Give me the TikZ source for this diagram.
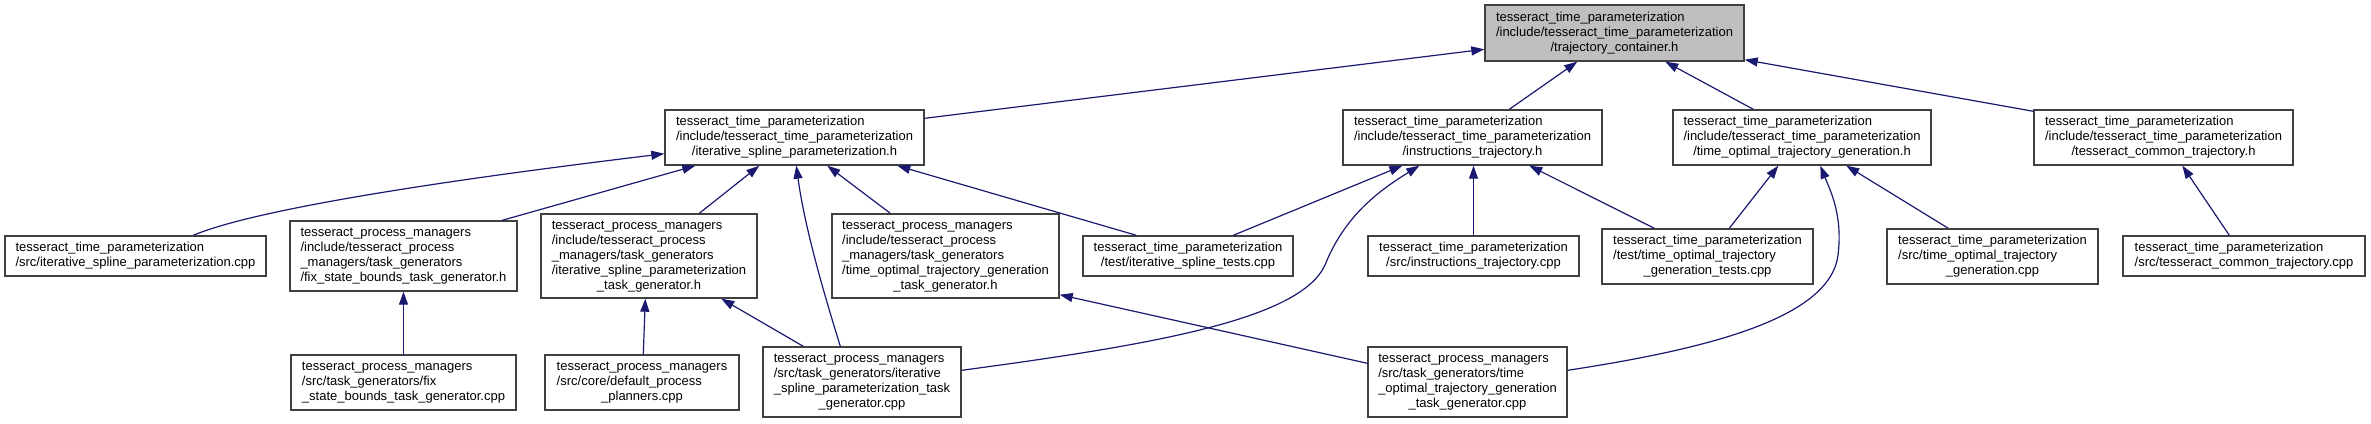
\documentclass[tikz,border=0pt]{standalone}
\usepackage{fontspec}
\setmainfont{Liberation Sans}
\usepackage{xcolor}
\usepackage{tikz}
\usetikzlibrary{arrows.meta}
\definecolor{edgeblue}{HTML}{191970}
\definecolor{focusgray}{HTML}{BFBFBF}
% file label: left lines, last line centred
\newcommand{\flabel}[2]{\begin{tabular}{@{}l@{}}#1\\\multicolumn{1}{@{}c@{}}{#2}\end{tabular}}

\begin{document}
\begin{tikzpicture}[x=1pt, y=-1pt, font=\fontsize{13}{15}\selectfont,
  box/.style={draw=black!75, line width=1.4pt, fill=white, inner sep=0pt},
  edge/.style={draw=edgeblue, line width=1.2pt, -{Triangle[length=13pt,width=9pt]}}]
\useasboundingbox (0,0) rectangle (2371,423);
% top: the header itself
\node[box, fill=focusgray, minimum width=259pt, minimum height=56pt] (trajh) at (1614.5,33)
  {\flabel{tesseract\_time\_parameterization\\/include/tesseract\_time\_parameterization}{/trajectory\_container.h}};
% headers that include it
\node[box, minimum width=259pt, minimum height=55pt] (isph) at (794.5,137.5)
  {\flabel{tesseract\_time\_parameterization\\/include/tesseract\_time\_parameterization}{/iterative\_spline\_parameterization.h}};
\node[box, minimum width=259pt, minimum height=55pt] (instrh) at (1472.5,137.5)
  {\flabel{tesseract\_time\_parameterization\\/include/tesseract\_time\_parameterization}{/instructions\_trajectory.h}};
\node[box, minimum width=258pt, minimum height=55pt] (toptgh) at (1802,137.5)
  {\flabel{tesseract\_time\_parameterization\\/include/tesseract\_time\_parameterization}{/time\_optimal\_trajectory\_generation.h}};
\node[box, minimum width=259pt, minimum height=55pt] (commonh) at (2163.5,137.5)
  {\flabel{tesseract\_time\_parameterization\\/include/tesseract\_time\_parameterization}{/tesseract\_common\_trajectory.h}};
% second row
\node[box, minimum width=261pt, minimum height=40pt] (ispcpp) at (135.5,256)
  {\flabel{tesseract\_time\_parameterization}{/src/iterative\_spline\_parameterization.cpp}};
\node[box, minimum width=227pt, minimum height=70pt] (fixh) at (403.5,256)
  {\flabel{tesseract\_process\_managers\\/include/tesseract\_process\\\_managers/task\_generators}{/fix\_state\_bounds\_task\_generator.h}};
\node[box, minimum width=216pt, minimum height=84pt] (isptgh) at (649,256)
  {\flabel{tesseract\_process\_managers\\/include/tesseract\_process\\\_managers/task\_generators\\/iterative\_spline\_parameterization}{\_task\_generator.h}};
\node[box, minimum width=227pt, minimum height=84pt] (totgtgh) at (945.5,256)
  {\flabel{tesseract\_process\_managers\\/include/tesseract\_process\\\_managers/task\_generators\\/time\_optimal\_trajectory\_generation}{\_task\_generator.h}};
\node[box, minimum width=210pt, minimum height=40pt] (isptest) at (1188,256)
  {\flabel{tesseract\_time\_parameterization}{/test/iterative\_spline\_tests.cpp}};
\node[box, minimum width=211pt, minimum height=40pt] (instrcpp) at (1473.5,256)
  {\flabel{tesseract\_time\_parameterization}{/src/instructions\_trajectory.cpp}};
\node[box, minimum width=211pt, minimum height=55pt] (toptgtest) at (1707.5,256.5)
  {\flabel{tesseract\_time\_parameterization\\/test/time\_optimal\_trajectory}{\_generation\_tests.cpp}};
\node[box, minimum width=211pt, minimum height=55pt] (toptgcpp) at (1992.5,256.5)
  {\flabel{tesseract\_time\_parameterization\\/src/time\_optimal\_trajectory}{\_generation.cpp}};
\node[box, minimum width=242pt, minimum height=40pt] (commoncpp) at (2244,256)
  {\flabel{tesseract\_time\_parameterization}{/src/tesseract\_common\_trajectory.cpp}};
% bottom row
\node[box, minimum width=225pt, minimum height=55pt] (fixcpp) at (403.5,382.5)
  {\flabel{tesseract\_process\_managers\\/src/task\_generators/fix}{\_state\_bounds\_task\_generator.cpp}};
\node[box, minimum width=194pt, minimum height=55pt] (plannerscpp) at (642,382.5)
  {\flabel{tesseract\_process\_managers\\/src/core/default\_process}{\_planners.cpp}};
\node[box, minimum width=198pt, minimum height=70pt] (isptgcpp) at (862,382)
  {\flabel{tesseract\_process\_managers\\/src/task\_generators/iterative\\\_spline\_parameterization\_task}{\_generator.cpp}};
\node[box, minimum width=199pt, minimum height=70pt] (totgtgcpp) at (1467.5,382)
  {\flabel{tesseract\_process\_managers\\/src/task\_generators/time\\\_optimal\_trajectory\_generation}{\_task\_generator.cpp}};
% includes of trajectory_container.h
\draw[edge] ([yshift=-9pt]isph.north east) -- ([yshift=-45pt]trajh.north west);
\draw[edge] ([xshift=167pt]instrh.north west) -- ([xshift=93pt]trajh.south west);
\draw[edge] ([xshift=81pt]toptgh.north west) -- ([xshift=181pt]trajh.south west);
\draw[edge] ([yshift=-2pt]commonh.north west) -- ([yshift=2pt]trajh.south east);
% includes of iterative_spline_parameterization.h
\draw[edge] ([xshift=189pt]ispcpp.north west) .. controls (270,203) and (530,170) .. ([yshift=12pt]isph.south west);
\draw[edge] ([xshift=213pt]fixh.north west) -- ([xshift=31pt]isph.south west);
\draw[edge] ([xshift=159pt]isptgh.north west) -- ([xshift=95pt]isph.south west);
\draw[edge] ([xshift=78pt]isptgcpp.north west) .. controls (826,300) and (805,230) .. ([xshift=132pt]isph.south west);
\draw[edge] ([xshift=59pt]totgtgh.north west) -- ([xshift=163pt]isph.south west);
\draw[edge] ([xshift=54pt]isptest.north west) -- ([xshift=233pt]isph.south west);
% includes of instructions_trajectory.h
\draw[edge] ([xshift=151pt]isptest.north west) -- ([xshift=60pt]instrh.south west);
\draw[edge] ([yshift=-24pt]isptgcpp.north east) .. controls (1150,345) and (1300,320) .. (1325,265)
  .. controls (1345,215) and (1380,190) .. ([xshift=77pt]instrh.south west);
\draw[edge] (instrcpp.north) -- (instrcpp.north |- instrh.south);
\draw[edge] ([xshift=53pt]toptgtest.north west) -- ([xshift=187pt]instrh.south west);
% includes of time_optimal_trajectory_generation.h
\draw[edge] ([xshift=128pt]toptgtest.north west) -- ([xshift=106pt]toptgh.south west);
\draw[edge] ([yshift=-24pt]totgtgcpp.north east) .. controls (1700,350) and (1830,320) .. (1838,255)
  .. controls (1843,215) and (1830,190) .. ([xshift=148pt]toptgh.south west);
\draw[edge] ([xshift=62pt]toptgcpp.north west) -- ([xshift=174pt]toptgh.south west);
% includes of tesseract_common_trajectory.h
\draw[edge] ([xshift=107pt]commoncpp.north west) -- ([xshift=149pt]commonh.south west);
% task generator headers
\draw[edge] (fixcpp.north) -- (fixh.south);
\draw[edge] ([xshift=99pt]plannerscpp.north west) -- ([xshift=105pt]isptgh.south west);
\draw[edge] ([xshift=41pt]isptgcpp.north west) -- ([xshift=181pt]isptgh.south west);
\draw[edge] ([yshift=-17pt]totgtgcpp.north west) -- ([yshift=4pt]totgtgh.south east);
\end{tikzpicture}
\end{document}
